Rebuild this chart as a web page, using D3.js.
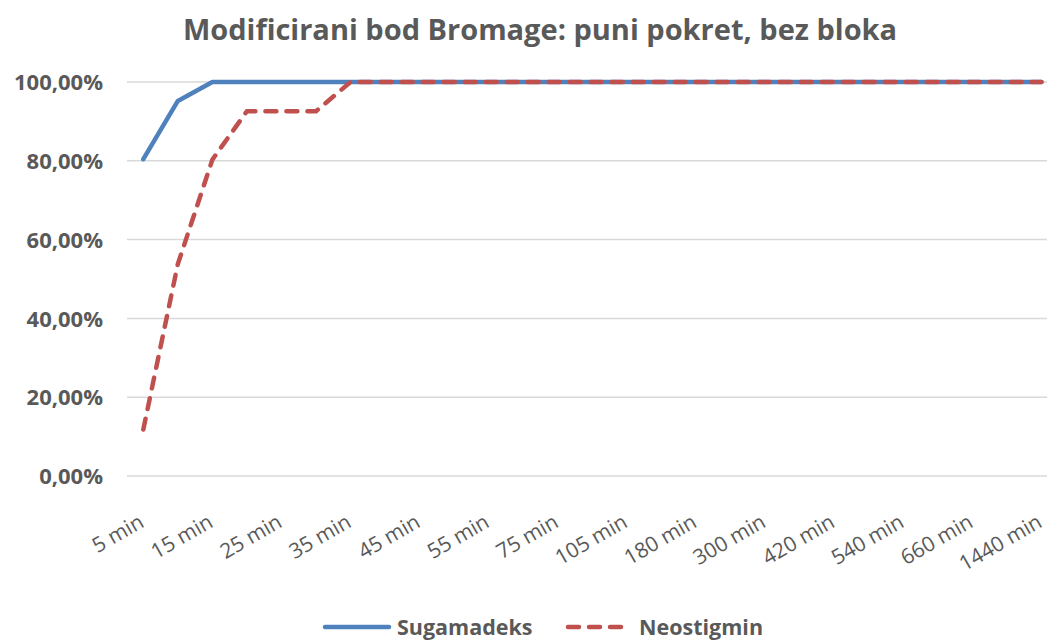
<!DOCTYPE html>
<html>
<head>
<meta charset="utf-8">
<script src="https://cdn.jsdelivr.net/npm/d3@7"></script>
<style>
  body { margin: 0; background: #fff; }
  svg { font-family: 'Open Sans', sans-serif; }
</style>
</head>
<body>
<svg id="chart"></svg>
<script>
const categories = ['5 min', '10 min', '15 min', '20 min', '25 min', '30 min', '35 min', '40 min', '45 min',
  '50 min', '55 min', '60 min', '75 min', '90 min', '105 min', '120 min', '180 min', '240 min', '300 min',
  '360 min', '420 min', '480 min', '540 min', '600 min', '660 min', '720 min', '1440 min'];
const sugamadeks = [80.4, 95.2, 100, 100, 100, 100, 100, 100, 100, 100, 100, 100, 100, 100, 100, 100,
  100, 100, 100, 100, 100, 100, 100, 100, 100, 100, 100];
const neostigmin = [11.8, 53.8, 80.3, 92.6, 92.6, 92.6, 100, 100, 100, 100, 100, 100, 100, 100, 100, 100,
  100, 100, 100, 100, 100, 100, 100, 100, 100, 100, 100];
const yTicks = [0, 20, 40, 60, 80, 100];

const width = 1049, height = 642;
const plot = {left: 127, right: 1047, top: 82, bottom: 476};
const grey = '#595959';

const svg = d3.select('#chart')
  .attr('width', width)
  .attr('height', height);

const x = d3.scalePoint()
  .domain(categories)
  .range([143.3, 1041.5]);

const y = d3.scaleLinear()
  .domain([0, 100])
  .range([plot.bottom, plot.top]);

// title
svg.append('text')
  .attr('x', 540)
  .attr('y', 40)
  .attr('text-anchor', 'middle')
  .style('font-size', '29px')
  .style('font-weight', 'bold')
  .style('fill', grey)
  .text('Modificirani bod Bromage: puni pokret, bez bloka');

// gridlines
svg.append('g')
  .selectAll('line')
  .data(yTicks)
  .enter()
  .append('line')
  .attr('x1', plot.left)
  .attr('x2', plot.right)
  .attr('y1', d => y(d))
  .attr('y2', d => y(d))
  .attr('stroke', '#d9d9d9')
  .attr('stroke-width', 1.5);

// y axis labels
const fmt = d => d3.format('.2f')(d).replace('.', ',') + '%';
svg.append('g')
  .attr('transform', 'translate(103,0)')
  .call(d3.axisLeft(y).tickValues(yTicks).tickSize(0).tickPadding(0).tickFormat(fmt))
  .call(g => g.select('.domain').remove())
  .call(g => g.selectAll('text')
    .attr('dy', '0.35em')
    .style('font-family', "'Open Sans', sans-serif")
    .style('font-size', '22px')
    .style('font-weight', 'bold')
    .style('fill', grey));

// x axis labels, every second category
svg.append('g')
  .selectAll('text')
  .data(categories.filter((d, i) => i % 2 === 0))
  .enter()
  .append('text')
  .attr('transform', d => `translate(${x(d) + 2}, 526) rotate(-30)`)
  .attr('text-anchor', 'end')
  .style('font-size', '21px')
  .style('fill', grey)
  .text(d => d);

const line = d3.line()
  .x((d, i) => x(categories[i]))
  .y(d => y(d));

svg.append('path')
  .datum(sugamadeks)
  .attr('fill', 'none')
  .attr('stroke', '#4f81bd')
  .attr('stroke-width', 4.5)
  .attr('stroke-linejoin', 'round')
  .attr('stroke-linecap', 'round')
  .attr('d', line);

svg.append('path')
  .datum(neostigmin)
  .attr('fill', 'none')
  .attr('stroke', '#c0504d')
  .attr('stroke-width', 4.5)
  .attr('stroke-linejoin', 'round')
  .attr('stroke-linecap', 'round')
  .attr('stroke-dasharray', '11,10')
  .attr('d', line);

// legend
const legend = svg.append('g').attr('transform', 'translate(0,627)');
legend.append('line')
  .attr('x1', 325).attr('x2', 389).attr('y1', 0).attr('y2', 0)
  .attr('stroke', '#4f81bd').attr('stroke-width', 4.5).attr('stroke-linecap', 'round');
legend.append('text')
  .attr('x', 397).attr('y', 8)
  .style('font-size', '21.5px').style('font-weight', 'bold').style('fill', grey)
  .text('Sugamadeks');
legend.append('line')
  .attr('x1', 568).attr('x2', 622).attr('y1', 0).attr('y2', 0)
  .attr('stroke', '#c0504d').attr('stroke-width', 4.5).attr('stroke-linecap', 'round')
  .attr('stroke-dasharray', '11,10');
legend.append('text')
  .attr('x', 639).attr('y', 8)
  .style('font-size', '21.5px').style('font-weight', 'bold').style('fill', grey)
  .text('Neostigmin');
</script>
</body>
</html>
